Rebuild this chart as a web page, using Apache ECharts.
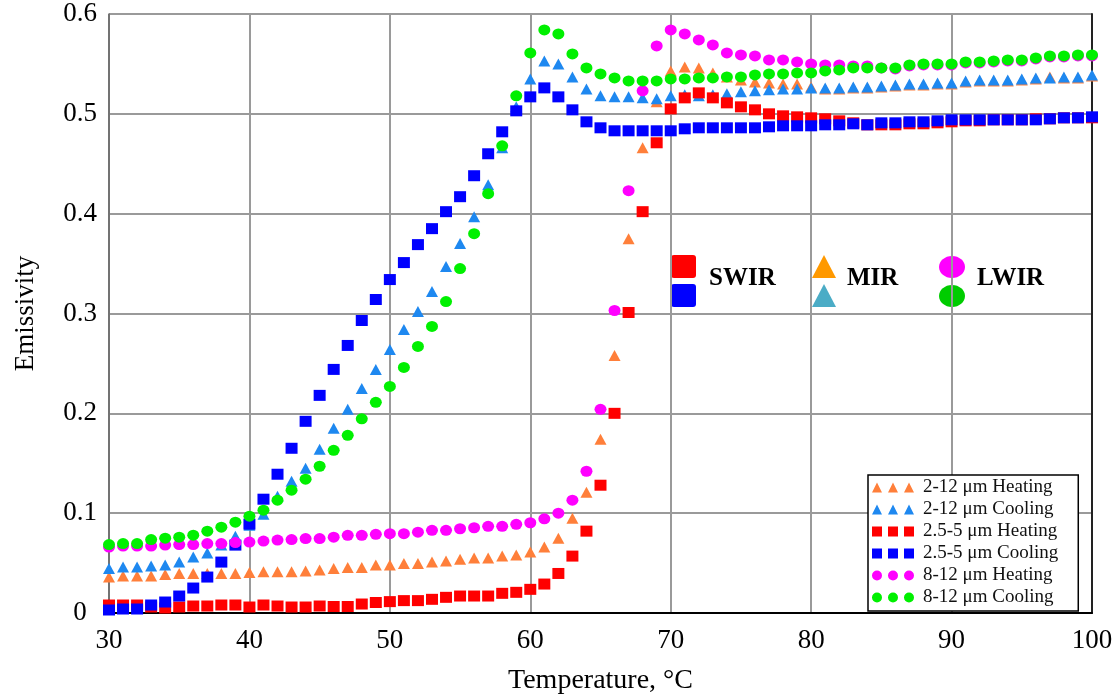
<!DOCTYPE html>
<html>
<head>
<meta charset="utf-8">
<script src="https://cdn.jsdelivr.net/npm/echarts@6/dist/echarts.min.js"></script>
<style>
  html, body { margin: 0; padding: 0; background: #fff; }
  #chart { width: 1116px; height: 700px; }
</style>
</head>
<body>
<div id="chart"></div>
<script>
// temperature, one reading per degree
const temps = [30, 31, 32, 33, 34, 35, 36, 37, 38, 39, 40, 41, 42, 43, 44, 45, 46, 47, 48, 49,
  50, 51, 52, 53, 54, 55, 56, 57, 58, 59, 60, 61, 62, 63, 64, 65, 66, 67, 68, 69,
  70, 71, 72, 73, 74, 75, 76, 77, 78, 79, 80, 81, 82, 83, 84, 85, 86, 87, 88, 89,
  90, 91, 92, 93, 94, 95, 96, 97, 98, 99, 100];

// 2-12 um heating
const mirHeat = [0.036, 0.037, 0.037, 0.037, 0.0386, 0.0396, 0.0396, 0.0396, 0.0396, 0.0396,
  0.0406, 0.0413, 0.0413, 0.0413, 0.042, 0.043, 0.0446, 0.0456, 0.0456, 0.048,
  0.048, 0.0496, 0.0496, 0.0512, 0.0522, 0.0539, 0.0552, 0.0552, 0.057, 0.058,
  0.0612, 0.066, 0.075, 0.095, 0.121, 0.174, 0.258, 0.375, 0.466, 0.512,
  0.543, 0.547, 0.546, 0.541, 0.537, 0.534, 0.532, 0.531, 0.530, 0.530,
  0.527, 0.525, 0.525, 0.526, 0.526, 0.527, 0.528, 0.529, 0.529, 0.530,
  0.530, 0.532, 0.533, 0.533, 0.533, 0.534, 0.535, 0.537, 0.536, 0.536, 0.538];
// 2-12 um cooling
const mirCool = [0.0446, 0.046, 0.046, 0.047, 0.048, 0.051, 0.056, 0.060, 0.068, 0.077,
  0.088, 0.099, 0.117, 0.132, 0.145, 0.164, 0.185, 0.204, 0.225, 0.244,
  0.264, 0.284, 0.302, 0.322, 0.347, 0.370, 0.397, 0.429, 0.466, 0.507,
  0.535, 0.553, 0.550, 0.537, 0.525, 0.518, 0.517, 0.517, 0.516, 0.515,
  0.518, 0.519, 0.518, 0.519, 0.520, 0.522, 0.523, 0.524, 0.525, 0.525,
  0.526, 0.526, 0.526, 0.527, 0.527, 0.528, 0.529, 0.530, 0.530, 0.531,
  0.531, 0.533, 0.534, 0.534, 0.534, 0.535, 0.536, 0.536, 0.537, 0.537, 0.539];
// 2.5-5 um heating
const swirHeat = [0.008, 0.008, 0.008, 0.006, 0.005, 0.006, 0.007, 0.007, 0.008, 0.008,
  0.006, 0.008, 0.007, 0.006, 0.006, 0.007, 0.0065, 0.0065, 0.009, 0.0105,
  0.0114, 0.0124, 0.0124, 0.0137, 0.0157, 0.017, 0.017, 0.017, 0.0197, 0.0207,
  0.0237, 0.029, 0.0396, 0.057, 0.082, 0.128, 0.200, 0.301, 0.402, 0.471,
  0.505, 0.516, 0.521, 0.516, 0.511, 0.507, 0.504, 0.500, 0.498, 0.497,
  0.496, 0.495, 0.493, 0.491, 0.489, 0.489, 0.489, 0.490, 0.490, 0.491,
  0.492, 0.493, 0.493, 0.494, 0.494, 0.494, 0.495, 0.495, 0.496, 0.496, 0.496];
// 2.5-5 um cooling
const swirCool = [0.003, 0.004, 0.004, 0.008, 0.011, 0.017, 0.025, 0.036, 0.051, 0.068,
  0.089, 0.114, 0.139, 0.165, 0.192, 0.218, 0.244, 0.268, 0.293, 0.314,
  0.334, 0.351, 0.369, 0.385, 0.402, 0.417, 0.438, 0.460, 0.482, 0.503,
  0.517, 0.526, 0.517, 0.504, 0.492, 0.486, 0.483, 0.483, 0.483, 0.483,
  0.483, 0.485, 0.486, 0.486, 0.486, 0.486, 0.486, 0.487, 0.488, 0.488,
  0.488, 0.489, 0.489, 0.490, 0.489, 0.491, 0.491, 0.492, 0.492, 0.493,
  0.494, 0.494, 0.494, 0.494, 0.494, 0.494, 0.494, 0.495, 0.496, 0.496, 0.497];
// 8-12 um heating
const lwirHeat = [0.066, 0.067, 0.067, 0.067, 0.068, 0.0685, 0.0685, 0.0695, 0.0695, 0.0705,
  0.071, 0.072, 0.073, 0.0735, 0.0745, 0.0745, 0.076, 0.0778, 0.0778, 0.0788,
  0.0794, 0.0794, 0.081, 0.0828, 0.0828, 0.0844, 0.0854, 0.0868, 0.0868, 0.0888,
  0.0904, 0.0943, 0.100, 0.113, 0.142, 0.204, 0.303, 0.423, 0.523, 0.568,
  0.584, 0.580, 0.574, 0.569, 0.561, 0.559, 0.558, 0.554, 0.554, 0.552,
  0.550, 0.549, 0.549, 0.548, 0.548, 0.546, 0.545, 0.548, 0.549, 0.549,
  0.549, 0.551, 0.551, 0.552, 0.553, 0.553, 0.555, 0.557, 0.557, 0.558, 0.558];
// 8-12 um cooling
const lwirCool = [0.0685, 0.0695, 0.0695, 0.0735, 0.075, 0.076, 0.078, 0.082, 0.086, 0.091,
  0.097, 0.103, 0.113, 0.123, 0.134, 0.147, 0.163, 0.178, 0.1945, 0.211,
  0.227, 0.246, 0.267, 0.287, 0.312, 0.345, 0.380, 0.420, 0.468, 0.518,
  0.561, 0.584, 0.580, 0.560, 0.546, 0.540, 0.536, 0.533, 0.533, 0.533,
  0.535, 0.535, 0.536, 0.536, 0.537, 0.537, 0.539, 0.540, 0.540, 0.541,
  0.541, 0.543, 0.544, 0.546, 0.546, 0.546, 0.546, 0.549, 0.550, 0.550,
  0.550, 0.552, 0.552, 0.553, 0.554, 0.554, 0.556, 0.558, 0.558, 0.559, 0.559];

const xTicks = [30, 40, 50, 60, 70, 80, 90, 100];
const yTicks = [0, 0.1, 0.2, 0.3, 0.4, 0.5, 0.6];

const serif = '"Liberation Serif", "DejaVu Serif", serif';

// legend icons: three little markers in a row
const triIcon = 'path://M0,10L5,0L10,10Z M16,10L21,0L26,10Z M32,10L37,0L42,10Z';
const sqIcon = 'path://M0,0H10V10H0Z M16,0H26V10H16Z M32,0H42V10H32Z';
const dotIcon = 'path://M0,5A5,5,0,1,1,10,5A5,5,0,1,1,0,5Z M16,5A5,5,0,1,1,26,5A5,5,0,1,1,16,5Z M32,5A5,5,0,1,1,42,5A5,5,0,1,1,32,5Z';

const seriesDefs = [
  { name: '2-12 \u03bcm Heating', values: mirHeat, symbol: 'triangle', color: '#ff7f3a', icon: triIcon },
  { name: '2-12 \u03bcm Cooling', values: mirCool, symbol: 'triangle', color: '#1e88f0', icon: triIcon },
  { name: '2.5-5 \u03bcm Heating', values: swirHeat, symbol: 'rect', color: '#ff0000', icon: sqIcon },
  { name: '2.5-5 \u03bcm Cooling', values: swirCool, symbol: 'rect', color: '#0000ff', icon: sqIcon },
  { name: '8-12 \u03bcm Heating', values: lwirHeat, symbol: 'circle', color: '#ff00ff', icon: dotIcon },
  { name: '8-12 \u03bcm Cooling', values: lwirCool, symbol: 'circle', color: '#00f000', icon: dotIcon }
];

const chart = echarts.init(document.getElementById('chart'));

chart.setOption({
  animation: false,
  backgroundColor: '#fff',
  grid: { left: 109, right: 24, top: 14, bottom: 84 },
  legend: {
    orient: 'vertical',
    left: 868,
    top: 475,
    padding: [3, 20, 4, 4],
    itemWidth: 42,
    itemHeight: 10,
    itemGap: 3,
    borderColor: '#000',
    borderWidth: 1.5,
    backgroundColor: '#fff',
    textStyle: { fontFamily: serif, fontSize: 19, color: '#111', padding: [0, 0, 0, 4] },
    data: seriesDefs.map(s => ({ name: s.name, icon: s.icon }))
  },
  xAxis: {
    type: 'value',
    min: 30,
    max: 100,
    interval: 10,
    name: 'Temperature, \u00b0C',
    nameLocation: 'middle',
    nameGap: 54,
    nameTextStyle: { fontFamily: serif, fontSize: 28, color: '#000' },
    axisLine: { show: true, onZero: false, lineStyle: { color: '#000', width: 2 } },
    axisTick: { show: false },
    axisLabel: {
      fontFamily: serif, fontSize: 27, color: '#000', margin: 14,
      formatter: v => (xTicks.indexOf(v) >= 0 ? String(v) : '')
    },
    splitLine: { show: true, lineStyle: { color: '#9a9a9a', width: 2 } }
  },
  yAxis: [{
    type: 'value',
    min: 0,
    max: 0.6,
    interval: 0.1,
    name: 'Emissivity',
    nameLocation: 'middle',
    nameGap: 70,
    nameTextStyle: { fontFamily: serif, fontSize: 27, color: '#000' },
    axisLine: { show: true, lineStyle: { color: '#666', width: 1.5 } },
    axisTick: { show: false },
    axisLabel: {
      fontFamily: serif, fontSize: 27, color: '#000', margin: 29, align: 'center',
      formatter: v => {
        const t = yTicks.find(k => Math.abs(k - v) < 1e-9);
        return t === undefined ? '' : String(t);
      }
    },
    splitLine: { show: true, lineStyle: { color: '#9a9a9a', width: 2 } }
  }, {
    type: 'value',
    position: 'right',
    min: 0,
    max: 0.6,
    interval: 0.1,
    axisLine: { show: true, lineStyle: { color: '#222', width: 2 } },
    axisTick: { show: false },
    axisLabel: { show: false },
    splitLine: { show: false }
  }],
  graphic: [
    { type: 'rect', shape: { x: 671, y: 255, width: 25, height: 23, r: 3 }, style: { fill: '#ff0000' } },
    { type: 'rect', shape: { x: 671, y: 284, width: 25, height: 23, r: 3 }, style: { fill: '#0000ff' } },
    { type: 'text', left: 709, top: 266, style: { text: 'SWIR', font: 'bold 25px ' + serif, fill: '#000' } },
    { type: 'polygon', shape: { points: [[812, 278], [824, 255], [836, 278]] }, style: { fill: '#ff9900' } },
    { type: 'polygon', shape: { points: [[812, 307], [824, 284], [836, 307]] }, style: { fill: '#4bacc6' } },
    { type: 'text', left: 847, top: 266, style: { text: 'MIR', font: 'bold 25px ' + serif, fill: '#000' } },
    { type: 'ellipse', shape: { cx: 952, cy: 267, rx: 13, ry: 11 }, style: { fill: '#ff00ff' } },
    { type: 'ellipse', shape: { cx: 952, cy: 296, rx: 13, ry: 11 }, style: { fill: '#00cc00' } },
    { type: 'text', left: 977, top: 266, style: { text: 'LWIR', font: 'bold 25px ' + serif, fill: '#000' } }
  ],
  series: seriesDefs.map(s => ({
    name: s.name,
    type: 'scatter',
    symbol: s.symbol,
    symbolSize: [12, 11],
    itemStyle: { color: s.color, opacity: 1 },
    data: temps.map((t, i) => [t, s.values[i]])
  }))
});
</script>
</body>
</html>
